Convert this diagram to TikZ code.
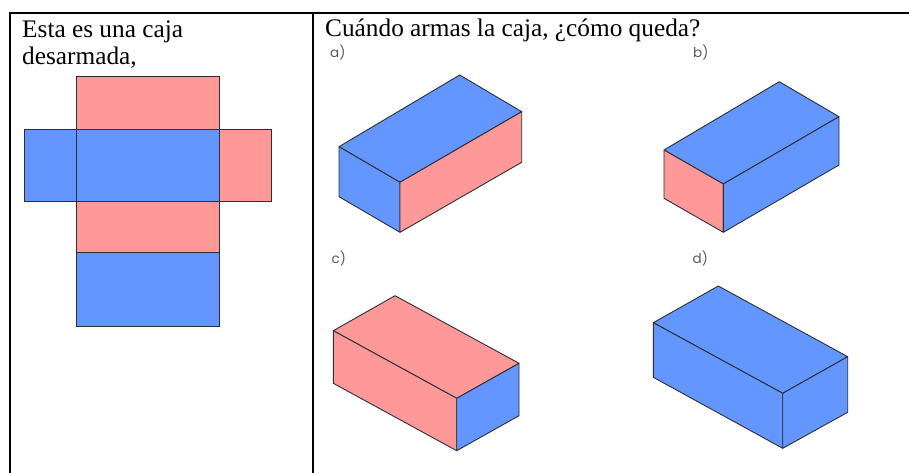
\documentclass[tikz,border=0pt]{standalone}
\usepackage{fontspec}
\setmainfont{Liberation Serif}
\newfontfamily\labelfont{Poppins}
\definecolor{faceblue}{RGB}{100,150,255}
\definecolor{facepink}{RGB}{255,152,152}
\definecolor{edgegray}{RGB}{45,45,50}
\definecolor{labelgray}{RGB}{90,90,90}
\begin{document}
\begin{tikzpicture}[x=1pt,y=-1pt,
  rule/.style={line width=2pt,black},
  netface/.style={draw=edgegray,line width=0.8pt},
  face/.style={draw=edgegray,line width=0.9pt,line join=round},
  celltext/.style={anchor=base west,inner sep=0pt,font=\fontsize{25.3}{27}\selectfont},
  optlabel/.style={anchor=base west,inner sep=0pt,text=labelgray,font=\labelfont\fontsize{13.5}{15}\selectfont}]
\useasboundingbox (0,0) rectangle (909,473);

% table rules
\draw[line width=1.6pt] (9,13.3) -- (909,13.3);
\draw[rule] (10,12.5) -- (10,473);
\draw[rule] (313,12.5) -- (313,473);

% left cell text
\node[celltext] (intro1) at (22,38) {Esta es una caja};
\node[celltext] (intro2) at (22,65) {desarmada,};

% unfolded box
\filldraw[netface,fill=facepink] (76.3,76) rectangle (219.3,129);
\filldraw[netface,fill=faceblue] (24.3,129) rectangle (76.3,201.3);
\filldraw[netface,fill=faceblue] (76.3,129) rectangle (219.3,201.3);
\filldraw[netface,fill=facepink] (219.3,129) rectangle (271.7,201.3);
\filldraw[netface,fill=facepink] (76.3,201.3) rectangle (219.3,252.7);
\filldraw[netface,fill=faceblue] (76.3,252.7) rectangle (219.3,326);

% right cell question
\node[celltext] (question) at (325,37) {Cuándo armas la caja, ¿cómo queda?};

% option labels
\node[optlabel] (la) at (330,57.5) {a)};
\node[optlabel] (lb) at (693,57.5) {b)};
\node[optlabel] (lc) at (331.5,263.5) {c)};
\node[optlabel] (ld) at (692.5,263.5) {d)};

% option a
\filldraw[face,fill=faceblue] (339,146.7) -- (459.7,75) -- (521.7,111.7) -- (400,182.3) -- cycle;
\filldraw[face,fill=faceblue] (339,146.7) -- (400,182.3) -- (400,232.3) -- (339,196.7) -- cycle;
\filldraw[face,fill=facepink] (400,182.3) -- (521.7,111.7) -- (521.7,162.3) -- (400,232.3) -- cycle;

% option b
\filldraw[face,fill=faceblue] (664,150) -- (779.3,81.7) -- (839,116.7) -- (723.3,184) -- cycle;
\filldraw[face,fill=facepink] (664,150) -- (723.3,184) -- (723.3,232.3) -- (664,198.3) -- cycle;
\filldraw[face,fill=faceblue] (723.3,184) -- (839,116.7) -- (839,165) -- (723.3,232.3) -- cycle;

% option c
\filldraw[face,fill=facepink] (333.3,330.7) -- (395,295.7) -- (519,363.3) -- (456.7,398.3) -- cycle;
\filldraw[face,fill=facepink] (333.3,330.7) -- (456.7,398.3) -- (456.7,450.7) -- (333.3,383.3) -- cycle;
\filldraw[face,fill=faceblue] (456.7,398.3) -- (519,363.3) -- (519,415.7) -- (456.7,450.7) -- cycle;

% option d
\filldraw[face,fill=faceblue] (653.3,322.7) -- (718.3,286) -- (847.7,356.7) -- (782.7,393.3) -- cycle;
\filldraw[face,fill=faceblue] (653.3,322.7) -- (782.7,393.3) -- (782.7,448.3) -- (653.3,377.3) -- cycle;
\filldraw[face,fill=faceblue] (782.7,393.3) -- (847.7,356.7) -- (847.7,412.3) -- (782.7,448.3) -- cycle;
\end{tikzpicture}
\end{document}
